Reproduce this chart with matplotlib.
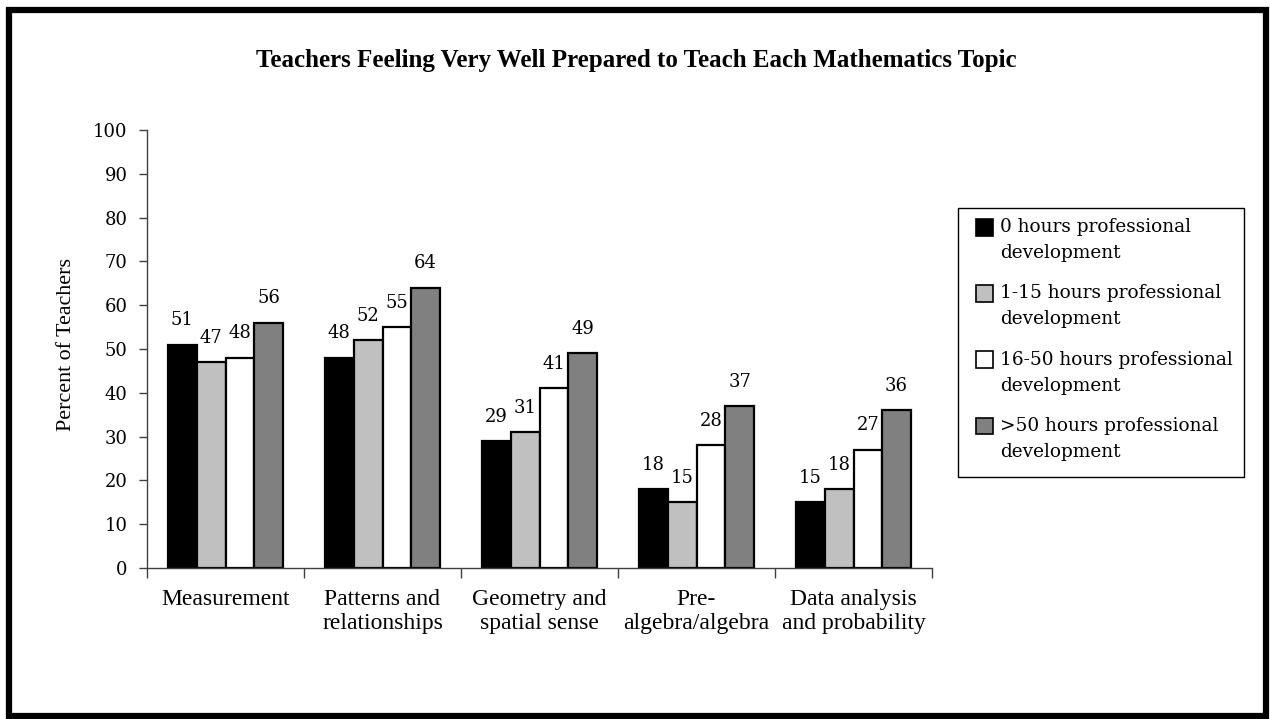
"""Grouped bar chart: teachers feeling very well prepared, by hours of PD."""

import matplotlib

matplotlib.use("Agg")
import matplotlib.pyplot as plt
import numpy as np
from matplotlib.legend_handler import HandlerPatch
from matplotlib.patches import Rectangle

topics = [
    "Measurement",
    "Patterns and\nrelationships",
    "Geometry and\nspatial sense",
    "Pre-\nalgebra/algebra",
    "Data analysis\nand probability",
]
series_names = [
    "0 hours professional\ndevelopment",
    "1-15 hours professional\ndevelopment",
    "16-50 hours professional\ndevelopment",
    ">50 hours professional\ndevelopment",
]
pd_0 = [51, 48, 29, 18, 15]
pd_1_15 = [47, 52, 31, 15, 18]
pd_16_50 = [48, 55, 41, 28, 27]
pd_over_50 = [56, 64, 49, 37, 36]
yticks = list(range(0, 101, 10))

values = [pd_0, pd_1_15, pd_16_50, pd_over_50]
fills = ["#000000", "#c0c0c0", "#ffffff", "#808080"]

NUM_FONT = "DejaVu Serif"
TXT_FONT = "Liberation Serif"
LEG_SIZE = 13.3
LEG_LINESPACING = 1.58
W, H = 1270, 719


def top_square(legend, orig_handle, xdescent, ydescent, width, height,
               fontsize):
    # keep the swatch level with the first line of a two-line label
    shift = 0.5 * LEG_LINESPACING * fontsize * 0.95
    return Rectangle((-xdescent, -ydescent + shift - 0.1 * width),
                     width, width)


fig = plt.figure(figsize=(W / 100, H / 100), dpi=100)
ax = fig.add_axes([147 / W, 1 - 568 / H, 785 / W, 438 / H])

x = np.arange(len(topics))
width = 0.183
offsets = (np.arange(len(values)) - 1.5) * width
for vals, off, color in zip(values, offsets, fills):
    bars = ax.bar(x + off, vals, width, color=color, edgecolor="black",
                  linewidth=1.6)
    for rect, v in zip(bars, vals):
        ax.annotate(f"{v}", (rect.get_x() + rect.get_width() / 2, v),
                    xytext=(0, 11), textcoords="offset points",
                    ha="center", va="bottom", fontsize=13,
                    family=NUM_FONT)

ax.set_xlim(-0.5, len(topics) - 0.5)
ax.set_ylim(0, 100)
ax.set_yticks(yticks)
ax.set_yticklabels([str(t) for t in yticks], family=NUM_FONT, fontsize=13)

# category boundaries carry the tick marks, names sit on minor ticks
ax.set_xticks(np.arange(len(topics) + 1) - 0.5)
ax.set_xticklabels([])
ax.set_xticks(x, minor=True)
ax.set_xticklabels(topics, minor=True, family=TXT_FONT, fontsize=17,
                   linespacing=1.18)
ax.tick_params(axis="x", which="major", direction="out", length=7,
               width=1, color="#404040")
ax.tick_params(axis="x", which="minor", length=0, pad=15)
ax.tick_params(axis="y", direction="out", length=6, width=1,
               color="#404040", pad=8)

for side in ("top", "right"):
    ax.spines[side].set_visible(False)
for side in ("left", "bottom"):
    ax.spines[side].set_color("#404040")
    ax.spines[side].set_linewidth(1)

ax.set_ylabel("Percent of Teachers", family=TXT_FONT, fontsize=15.8,
              labelpad=12)
ax.yaxis.label.set_y(0.511)

fig.text(0.501, 1 - 60 / H,
         "Teachers Feeling Very Well Prepared to Teach Each Mathematics Topic",
         ha="center", va="center", family=TXT_FONT, fontsize=18,
         weight="bold")

swatches = [Rectangle((0, 0), 1, 1, facecolor=c, edgecolor="black",
                      linewidth=1.2) for c in fills]
leg = fig.legend(swatches, series_names, frameon=False,
                 loc="upper left", bbox_to_anchor=(976 / W, 1 - 218 / H),
                 prop={"family": NUM_FONT, "size": LEG_SIZE},
                 handler_map={Rectangle: HandlerPatch(patch_func=top_square)},
                 handlelength=0.9, handleheight=0.8, handletextpad=0.4,
                 labelspacing=1.2, borderpad=0, borderaxespad=0)
for t in leg.get_texts():
    t.set_linespacing(LEG_LINESPACING)
# legend box drawn on its own so the padding can be uneven
fig.patches.append(Rectangle((958 / W, 1 - 477 / H), 286 / W, 269 / H,
                             transform=fig.transFigure, fill=False,
                             edgecolor="black", linewidth=1))

# heavy outer frame round the whole figure
fig.patches.append(Rectangle((9 / W, 3 / H), 1257 / W, 706 / H,
                             transform=fig.transFigure, fill=False,
                             edgecolor="black", linewidth=4.5))

fig.savefig("out.png", dpi=100)
